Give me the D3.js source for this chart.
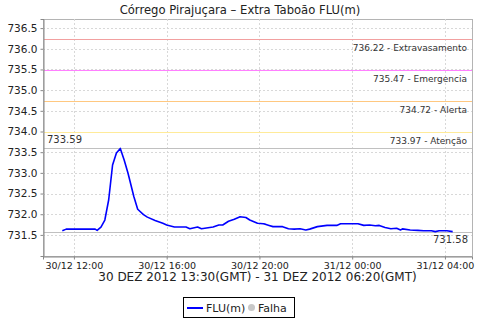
<!DOCTYPE html>
<html><head><meta charset="utf-8">
<script src="https://cdn.jsdelivr.net/npm/d3@7"></script>
<style>
body{margin:0;background:#fff;}
svg{display:block;font-family:"DejaVu Sans",sans-serif;}
</style></head>
<body><svg id="c" width="480" height="320"></svg>
<script>
const times = ["2012-12-30 11:30","2012-12-30 11:40","2012-12-30 12:00","2012-12-30 12:30","2012-12-30 12:55","2012-12-30 13:00","2012-12-30 13:10","2012-12-30 13:20","2012-12-30 13:30","2012-12-30 13:40","2012-12-30 13:50","2012-12-30 14:00","2012-12-30 14:10","2012-12-30 14:20","2012-12-30 14:35","2012-12-30 14:45","2012-12-30 15:00","2012-12-30 15:10","2012-12-30 15:30","2012-12-30 15:50","2012-12-30 16:00","2012-12-30 16:20","2012-12-30 16:50","2012-12-30 17:00","2012-12-30 17:20","2012-12-30 17:30","2012-12-30 18:00","2012-12-30 18:15","2012-12-30 18:25","2012-12-30 18:40","2012-12-30 18:55","2012-12-30 19:10","2012-12-30 19:25","2012-12-30 19:35","2012-12-30 19:55","2012-12-30 20:10","2012-12-30 20:15","2012-12-30 20:25","2012-12-30 20:35","2012-12-30 21:00","2012-12-30 21:15","2012-12-30 21:30","2012-12-30 21:45","2012-12-30 22:00","2012-12-30 22:10","2012-12-30 22:30","2012-12-30 22:55","2012-12-30 23:20","2012-12-30 23:30","2012-12-31 00:15","2012-12-31 00:30","2012-12-31 00:45","2012-12-31 01:00","2012-12-31 01:10","2012-12-31 01:25","2012-12-31 01:40","2012-12-31 01:55","2012-12-31 02:05","2012-12-31 02:10","2012-12-31 02:30","2012-12-31 02:50","2012-12-31 03:05","2012-12-31 03:25","2012-12-31 03:35","2012-12-31 03:45","2012-12-31 04:05","2012-12-31 04:20"];
const levels = [731.60,731.64,731.64,731.64,731.64,731.61,731.69,731.86,732.35,733.19,733.48,733.59,733.31,732.99,732.43,732.12,731.99,731.93,731.85,731.78,731.74,731.69,731.69,731.65,731.69,731.65,731.69,731.74,731.74,731.83,731.88,731.94,731.92,731.86,731.78,731.77,731.76,731.73,731.70,731.70,731.65,731.64,731.65,731.62,731.64,731.70,731.73,731.73,731.77,731.77,731.73,731.74,731.72,731.73,731.68,731.65,731.66,731.62,731.645,731.62,731.61,731.60,731.60,731.58,731.60,731.60,731.58];
const thresholdValues = [736.22,735.47,734.72,733.97];
const thresholdNames = ["Extravasamento","Emergencia","Alerta","Atenção"];
const thresholdColors = ["#f2a0a0","#ff80ff","#ffc880","#ffeb99"];
const yTicks = [731.5,732.0,732.5,733.0,733.5,734.0,734.5,735.0,735.5,736.0,736.5];
const xDomain = ["2012-12-30 10:40","2012-12-31 05:10"];
const yDomain = [730.99,736.72];
const title = "Córrego Pirajuçara – Extra Taboão FLU(m)";
const subtitle = "30 DEZ 2012 13:30(GMT) - 31 DEZ 2012 06:20(GMT)";
const seriesName = "FLU(m)", failName = "Falha";

const parse = d3.utcParse("%Y-%m-%d %H:%M");
const data = times.map((t,i)=>({t:parse(t), v:levels[i]}));
const L=43,R=472,T=19,B=256;
const svg = d3.select("#c");
const x = d3.scaleUtc().domain(xDomain.map(parse)).range([L,R]);
const y = d3.scaleLinear().domain(yDomain).range([B,T]);
const xTicks = x.ticks(d3.utcHour.every(4));
const py = v => Math.round(y(v))+0.5;
const pyf = v => Math.floor(y(v))+0.5;

svg.append("rect").attr("x",L+0.5).attr("y",T+0.5).attr("width",R-L).attr("height",B-T).attr("fill","#fff").attr("stroke","#b4b4b4");

const grid = svg.append("g").attr("stroke","#d8d8d8").attr("stroke-dasharray","2,2");
grid.selectAll("line.h").data(yTicks).join("line").attr("class","h").attr("x1",L).attr("x2",R).attr("y1",py).attr("y2",py);
grid.selectAll("line.v").data(xTicks).join("line").attr("class","v").attr("y1",T).attr("y2",B).attr("x1",d=>Math.round(x(d))+0.5).attr("x2",d=>Math.round(x(d))+0.5);

// thresholds
const th = svg.append("g");
thresholdValues.forEach((v,i)=>{
  th.append("line").attr("x1",L+1).attr("x2",R).attr("y1",pyf(v)).attr("y2",pyf(v)).attr("stroke",thresholdColors[i]).attr("stroke-width",1);
  th.append("text").attr("x",467).attr("y",y(v)+11.5).attr("text-anchor","end").attr("font-size",9).attr("fill","#333").text(d3.format(".2f")(v)+" - "+thresholdNames[i]);
});
const maxV = d3.max(levels), minV = d3.min(levels);
[maxV,minV].forEach(v=>{
  th.append("line").attr("x1",L+1).attr("x2",R).attr("y1",py(v)).attr("y2",py(v)).attr("stroke","#c0c0c0").attr("stroke-width",1);
});
th.append("text").attr("x",47).attr("y",y(maxV)-5.5).attr("font-size",10).attr("fill","#333").text(d3.format(".2f")(maxV));
th.append("text").attr("x",468).attr("y",y(minV)+11.5).attr("text-anchor","end").attr("font-size",10).attr("fill","#333").text(d3.format(".2f")(minV));

// line
svg.append("path").datum(data).attr("fill","none").attr("stroke","#0000ff").attr("stroke-width",1.6).attr("stroke-linejoin","round")
  .attr("d",d3.line().x(d=>x(d.t)).y(d=>y(d.v)));

// axes
const ya = svg.append("g").attr("transform",`translate(${L+0.5},0)`).call(d3.axisLeft(y).tickValues(yTicks).tickFormat(d3.format(".1f")).tickSize(3).tickPadding(3));
ya.select(".domain").attr("stroke","#888");
ya.selectAll(".tick line").attr("stroke","#888");
ya.selectAll("text").attr("font-size",10.5).attr("fill","#222").attr("font-family","DejaVu Sans");
const xa = svg.append("g").attr("transform",`translate(0,${B+0.5})`).call(d3.axisBottom(x).tickValues(xTicks).tickFormat(d3.utcFormat("%d/%m %H:%M")).tickSize(3).tickPadding(3));
xa.select(".domain").attr("stroke","#888");
xa.selectAll(".tick line").attr("stroke","#888");
xa.selectAll("text").attr("font-size",9.5).attr("fill","#222").attr("font-family","DejaVu Sans");

svg.append("text").attr("x",240).attr("y",13.5).attr("text-anchor","middle").attr("font-size",11.6).attr("fill","#222").text(title);
svg.append("text").attr("x",(L+R)/2).attr("y",281).attr("text-anchor","middle").attr("font-size",12).attr("fill","#222").text(subtitle);

// legend
const lg = svg.append("g");
lg.append("rect").attr("x",183.5).attr("y",297.5).attr("width",111).attr("height",20).attr("fill","#fff").attr("stroke","#000");
lg.append("line").attr("x1",187).attr("x2",203).attr("y1",308).attr("y2",308).attr("stroke","#0000ff").attr("stroke-width",2);
lg.append("text").attr("x",206).attr("y",312).attr("font-size",11).attr("fill","#222").text(seriesName);
lg.append("circle").attr("cx",251.5).attr("cy",307.5).attr("r",3.5).attr("fill","#c8c8c8");
lg.append("text").attr("x",258).attr("y",312).attr("font-size",11).attr("fill","#222").text(failName);
</script></body></html>
